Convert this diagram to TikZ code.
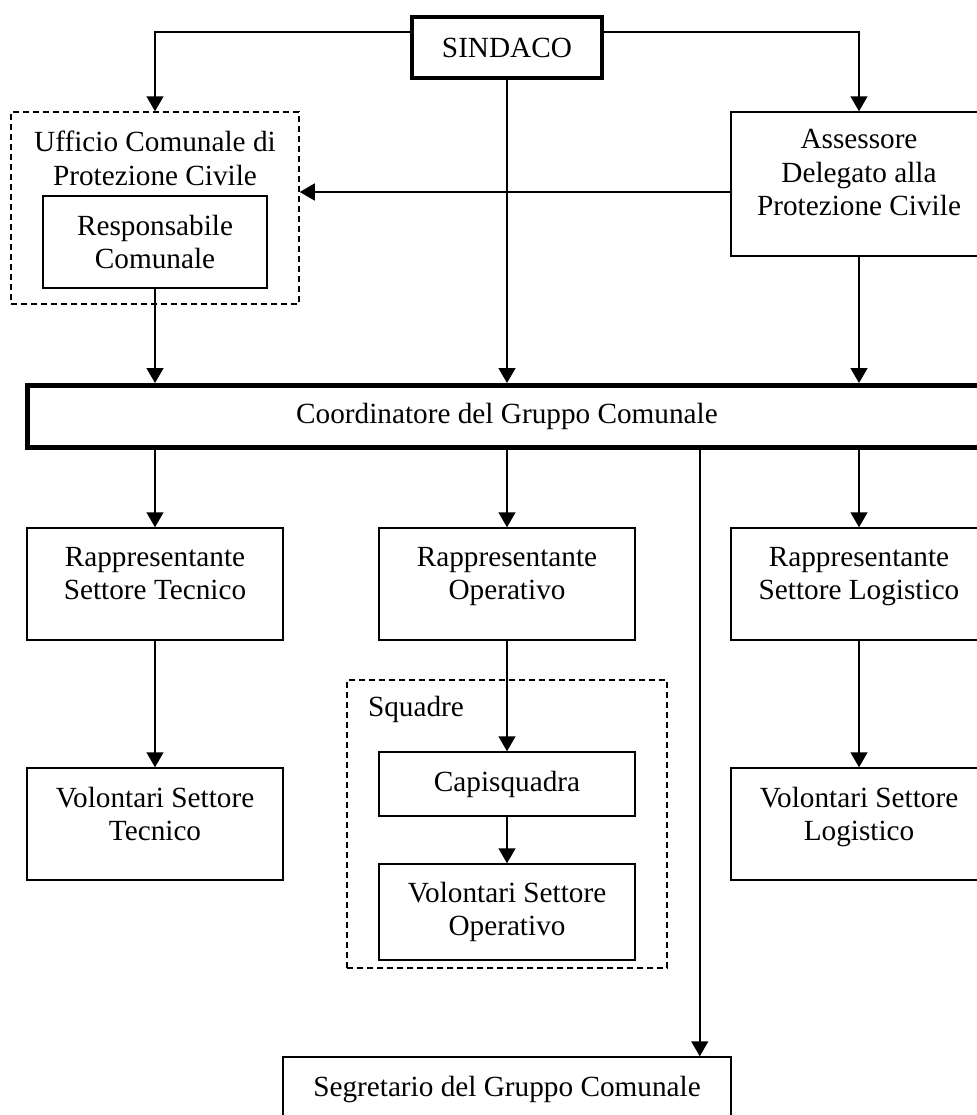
\documentclass[tikz,border=0pt]{standalone}
\usepackage{fontspec}
\setmainfont{Liberation Serif}
\usetikzlibrary{arrows.meta}

\begin{document}
\begin{tikzpicture}[x=0.4pt, y=-0.4pt, font=\fontsize{11.7}{13.4}\selectfont, line width=0.6pt, >={Triangle[length=6pt, width=6.8pt]}, block/.style={rectangle, draw, minimum width=102.4pt, minimum height=44.8pt, align=center, inner sep=0pt}, thickblock/.style={rectangle, draw, line width=1.6pt, align=center}, group/.style={rectangle, draw, dash pattern=on 2.4pt off 1.6pt, inner sep=0pt}, txt/.style={align=center, inner sep=0pt, anchor=north}]

    \useasboundingbox (0,0) rectangle (977,1115);

    % top
    \node[thickblock, minimum width=76pt, minimum height=24.4pt] (sindaco) at (507,47.5) {SINDACO};
    \node[group, minimum width=115.2pt, minimum height=76.8pt] (ufficio) at (155,208) {};
    \node[txt] (ufficio-t) at ([yshift=-7.6pt]ufficio.north) {Ufficio Comunale di\\Protezione Civile};
    \node[block, minimum width=89.6pt, minimum height=36.8pt] (resp) at (155,242) {Responsabile\\Comunale};
    \node[block, minimum height=57.6pt] (assessore) at (859,184) {};
    \node[txt] (assessore-t) at ([yshift=-7pt]assessore.north) {Assessore\\Delegato alla\\Protezione Civile};

    \node[thickblock, line width=2pt, minimum width=383.6pt, minimum height=24.8pt] (coord) at (507,416.5) {Coordinatore del Gruppo Comunale};

    % settori
    \node[block] (rtec) at (155,584) {};
    \node[block, right of=rtec, node distance=140.8pt] (rope) {};
    \node[block, right of=rope, node distance=140.8pt] (rlog) {};
    \node[txt] (rtec-t) at ([yshift=-7.6pt]rtec.north) {Rappresentante\\Settore Tecnico};
    \node[txt] (rope-t) at ([yshift=-7.6pt]rope.north) {Rappresentante\\Operativo};
    \node[txt] (rlog-t) at ([yshift=-7.6pt]rlog.north) {Rappresentante\\Settore Logistico};

    \node[block, below of=rtec, node distance=96pt] (vtec) {};
    \node[block, below of=rlog, node distance=96pt] (vlog) {};
    \node[txt] (vtec-t) at ([yshift=-7.6pt]vtec.north) {Volontari Settore\\Tecnico};
    \node[txt] (vlog-t) at ([yshift=-7.6pt]vlog.north) {Volontari Settore\\Logistico};

    % squadre
    \node[group, minimum width=128pt, minimum height=115.2pt] (squadre) at (507,824) {};
    \node[txt, anchor=west] (squadre-t) at ([xshift=8.4pt, yshift=-12pt]squadre.north west) {Squadre};
    \node[block, below of=rope, node distance=80pt, minimum height=25.6pt] (capi) {Capisquadra};
    \node[block, below of=capi, node distance=51.2pt, minimum height=38.4pt] (vope) {Volontari Settore\\Operativo};

    \node[block, minimum width=179.2pt, minimum height=25.6pt] (segr) at (507,1089) {Segretario del Gruppo Comunale};

    % connectors
    \draw[->] ([yshift=6.2pt]sindaco.west) -| (ufficio.north);
    \draw[->] ([yshift=6.2pt]sindaco.east) -| (assessore.north);
    \draw[->] (sindaco.south) -- (sindaco.south |- coord.north);
    \coordinate (aw) at ([yshift=-3.2pt]assessore.west);
    \draw[->] (aw) -- (aw -| ufficio.east);
    \draw[->] (resp.south) -- (resp.south |- coord.north);
    \draw[->] (assessore.south) -- (assessore.south |- coord.north);

    \foreach \n in {rtec, rope, rlog}
        \draw[->] (\n.north |- coord.south) -- (\n.north);
    \coordinate (sg) at ([xshift=-12.8pt]segr.north east);
    \draw[->] (sg |- coord.south) -- (sg);

    \draw[->] (rtec) -- (vtec);
    \draw[->] (rlog) -- (vlog);
    \draw[->] (rope) -- (capi);
    \draw[->] (capi) -- (vope);

\end{tikzpicture}
\end{document}
